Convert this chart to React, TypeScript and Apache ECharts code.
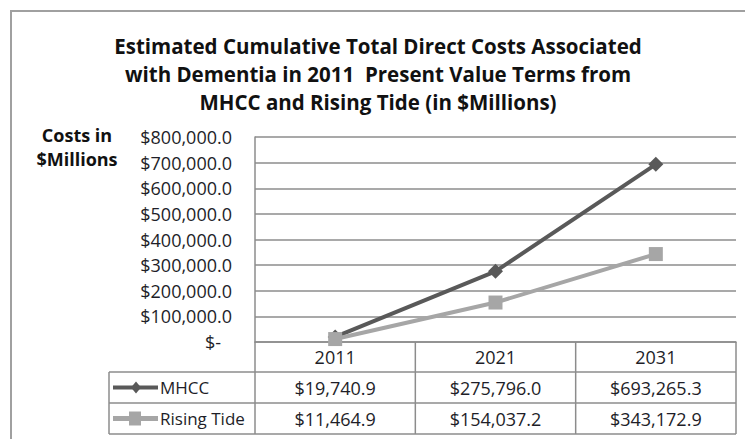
import React, { useEffect, useRef } from "react";
import * as echarts from "echarts";

const titleLines = [
  "Estimated Cumulative Total Direct Costs Associated",
  "with Dementia in 2011  Present Value Terms from",
  "MHCC and Rising Tide (in $Millions)",
];
const yAxisTitle = ["Costs in", "$Millions"];
const years = ["2011", "2021", "2031"];
const seriesNames = ["MHCC", "Rising Tide"];
const mhccValues = [19740.9, 275796.0, 693265.3];
const risingTideValues = [11464.9, 154037.2, 343172.9];
const yMin = 0;
const yMax = 800000;
const yInterval = 100000;

const FONT = "'Open Sans', 'Noto Sans', sans-serif";
const GRID_COLOR = "#8c8c8c";
const TEXT_COLOR = "#1e1e28";
const MHCC_COLOR = "#595959";
const RT_COLOR = "#a6a6a6";

const fmtMoney = (v: number) =>
  "$" + v.toLocaleString("en-US", { minimumFractionDigits: 1, maximumFractionDigits: 1 });

export default function App() {
  const ref = useRef<HTMLDivElement>(null);

  useEffect(() => {
    if (!ref.current) return;
    const chart = echarts.init(ref.current, null, { renderer: "svg" });

    const gridLeft = 255;
    const gridRight = 9;
    const gridTop = 137;
    const gridBottom = 97;
    const H = 439;
    const W = 745;
    const axisY = H - gridBottom;
    const headerBottom = 372;
    const row1Bottom = 403;
    const row2Bottom = 434;
    const tableLeft = 109;
    const tableRight = W - gridRight;

    chart.setOption({
      animation: false,
      backgroundColor: "#ffffff",
      title: {
        text: titleLines.join("\n"),
        left: 373,
        top: 27,
        textAlign: "center",
        textStyle: {
          fontFamily: FONT,
          fontWeight: "bold",
          fontSize: 20.5,
          lineHeight: 28,
          color: "#111111",
        },
      },
      grid: { left: gridLeft, right: gridRight, top: gridTop, bottom: gridBottom, containLabel: false },
      xAxis: {
        type: "category",
        data: years,
        boundaryGap: true,
        axisLine: { show: true, lineStyle: { color: GRID_COLOR, width: 1.5 } },
        axisTick: { show: false },
        axisLabel: {
          margin: 6,
          fontFamily: FONT,
          fontSize: 18,
          color: TEXT_COLOR,
        },
        splitLine: { show: false },
      },
      yAxis: {
        type: "value",
        min: yMin,
        max: yMax,
        interval: yInterval,
        axisLine: { show: true, lineStyle: { color: GRID_COLOR, width: 1.5 } },
        axisTick: { show: false },
        splitLine: { show: true, lineStyle: { color: GRID_COLOR, width: 1.5 } },
        axisLabel: {
          margin: 23,
          fontFamily: FONT,
          fontSize: 18,
          color: TEXT_COLOR,
          formatter: (v: number) => (v === 0 ? "{z|$-}" : fmtMoney(v)),
          rich: {
            z: { fontFamily: FONT, fontSize: 18, color: TEXT_COLOR, padding: [0, 11, 0, 0] },
          },
        },
      },
      series: [
        {
          name: seriesNames[0],
          type: "line",
          data: mhccValues,
          symbol: "diamond",
          symbolSize: 15,
          lineStyle: { color: MHCC_COLOR, width: 4 },
          itemStyle: { color: MHCC_COLOR },
          z: 2,
        },
        {
          name: seriesNames[1],
          type: "line",
          data: risingTideValues,
          symbol: "rect",
          symbolSize: 14,
          lineStyle: { color: RT_COLOR, width: 4 },
          itemStyle: { color: RT_COLOR },
          z: 3,
        },
      ],
    });

    const centers = years.map((_, i) => chart.convertToPixel({ xAxisIndex: 0 }, i) as number);
    const bw = centers.length > 1 ? centers[1] - centers[0] : tableRight - gridLeft;
    const bounds = [centers[0] - bw / 2, ...centers.map((c) => c + bw / 2)];

    const lineStyle = { stroke: GRID_COLOR, lineWidth: 1.5 };
    const graphics: any[] = [];

    // outer frame (top and left edges)
    graphics.push({
      type: "polyline",
      shape: { points: [[11, H], [11, 11], [W, 11]] },
      style: { stroke: "#a0a0a0", lineWidth: 2, fill: null },
      silent: true,
    });

    // y axis title
    graphics.push({
      type: "text",
      style: {
        text: yAxisTitle.join("\n"),
        x: 77,
        y: 123,
        textAlign: "center",
        textVerticalAlign: "top",
        font: `bold 18px ${FONT}`,
        lineHeight: 24,
        fill: "#111111",
      },
    });

    // table horizontal lines
    [headerBottom, row1Bottom, row2Bottom].forEach((y) => {
      graphics.push({
        type: "line",
        shape: { x1: tableLeft, y1: y, x2: tableRight, y2: y },
        style: lineStyle,
        silent: true,
      });
    });
    // table vertical lines
    bounds.forEach((x) => {
      graphics.push({
        type: "line",
        shape: { x1: x, y1: axisY, x2: x, y2: row2Bottom },
        style: lineStyle,
        silent: true,
      });
    });
    graphics.push({
      type: "line",
      shape: { x1: tableLeft, y1: headerBottom, x2: tableLeft, y2: row2Bottom },
      style: lineStyle,
      silent: true,
    });

    const rows = [
      { name: seriesNames[0], values: mhccValues, color: MHCC_COLOR, cy: (headerBottom + row1Bottom) / 2, kind: "diamond" },
      { name: seriesNames[1], values: risingTideValues, color: RT_COLOR, cy: (row1Bottom + row2Bottom) / 2, kind: "rect" },
    ];

    rows.forEach((row) => {
      graphics.push({
        type: "line",
        shape: { x1: 113, y1: row.cy, x2: 158, y2: row.cy },
        style: { stroke: row.color, lineWidth: row.kind === "rect" ? 5 : 4 },
        silent: true,
      });
      if (row.kind === "diamond") {
        graphics.push({
          type: "polygon",
          shape: {
            points: [
              [136, row.cy - 6],
              [141, row.cy],
              [136, row.cy + 6],
              [131, row.cy],
            ],
          },
          style: { fill: row.color },
          silent: true,
        });
      } else {
        graphics.push({
          type: "rect",
          shape: { x: 129, y: row.cy - 7, width: 12, height: 14 },
          style: { fill: row.color },
          silent: true,
        });
      }
      graphics.push({
        type: "text",
        style: {
          text: row.name,
          x: 160,
          y: row.cy,
          textAlign: "left",
          textVerticalAlign: "middle",
          font: `17px ${FONT}`,
          fill: TEXT_COLOR,
        },
      });
      row.values.forEach((v, i) => {
        graphics.push({
          type: "text",
          style: {
            text: fmtMoney(v),
            x: centers[i],
            y: row.cy,
            textAlign: "center",
            textVerticalAlign: "middle",
            font: `18px ${FONT}`,
            fill: TEXT_COLOR,
          },
        });
      });
    });

    chart.setOption({ graphic: graphics });

    return () => {
      chart.dispose();
    };
  }, []);

  return (
    <div
      ref={ref}
      style={{ position: "fixed", left: 0, top: 0, width: 745, height: 439, background: "#fff" }}
    />
  );
}
